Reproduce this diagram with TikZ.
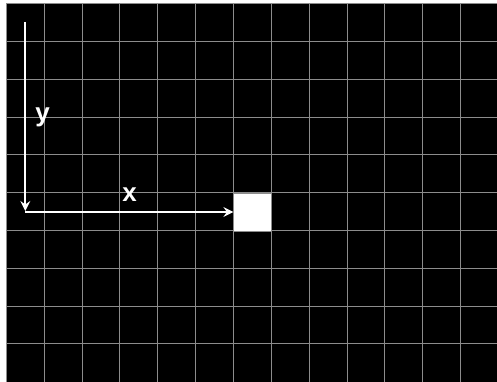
\documentclass[tikz,border=0pt]{standalone}
\usepackage{fontspec}
\setmainfont{Liberation Sans}
\usetikzlibrary{arrows.meta}
\tikzset{
  gridline/.style={draw=gray!90, line width=0.9pt},
  axis/.style={draw=white, line width=1.8pt, -{Stealth[length=10pt,width=10pt,inset=3.5pt]}},
  lbl/.style={text=white, font=\bfseries\fontsize{26}{26}\selectfont, inner sep=0pt},
  cell/.style={fill=white, draw=gray!90, line width=0.9pt, minimum width=37.8pt, minimum height=37.8pt, inner sep=0pt, anchor=north west}
}
\begin{document}
\begin{tikzpicture}[x=1pt,y=-1pt]
\useasboundingbox (0,0) rectangle (497,382);
\fill[white] (0,0) rectangle (497,382);
\fill[black] (6.4,3.7) rectangle (497,382);
\foreach \k in {0,...,12} {
  \draw[gridline] ({6.4+37.84*\k},3.7) -- ({6.4+37.84*\k},382);
}
\foreach \k in {0,...,9} {
  \draw[gridline] (6.4,{3.7+37.8*\k}) -- (497,{3.7+37.8*\k});
}
\node[cell] (box) at (233.4,192.7) {};
\coordinate (ytop) at (25.3,22);
\coordinate (origin) at (25.3,212);
\draw[axis] (ytop) -- ([yshift=1pt]origin);
\draw[axis] (origin) -- (origin -| box.west);
\node[lbl] (ylab) at (42.7,117) {y};
\node[lbl] (xlab) at (129.7,195) {x};
\end{tikzpicture}
\end{document}
